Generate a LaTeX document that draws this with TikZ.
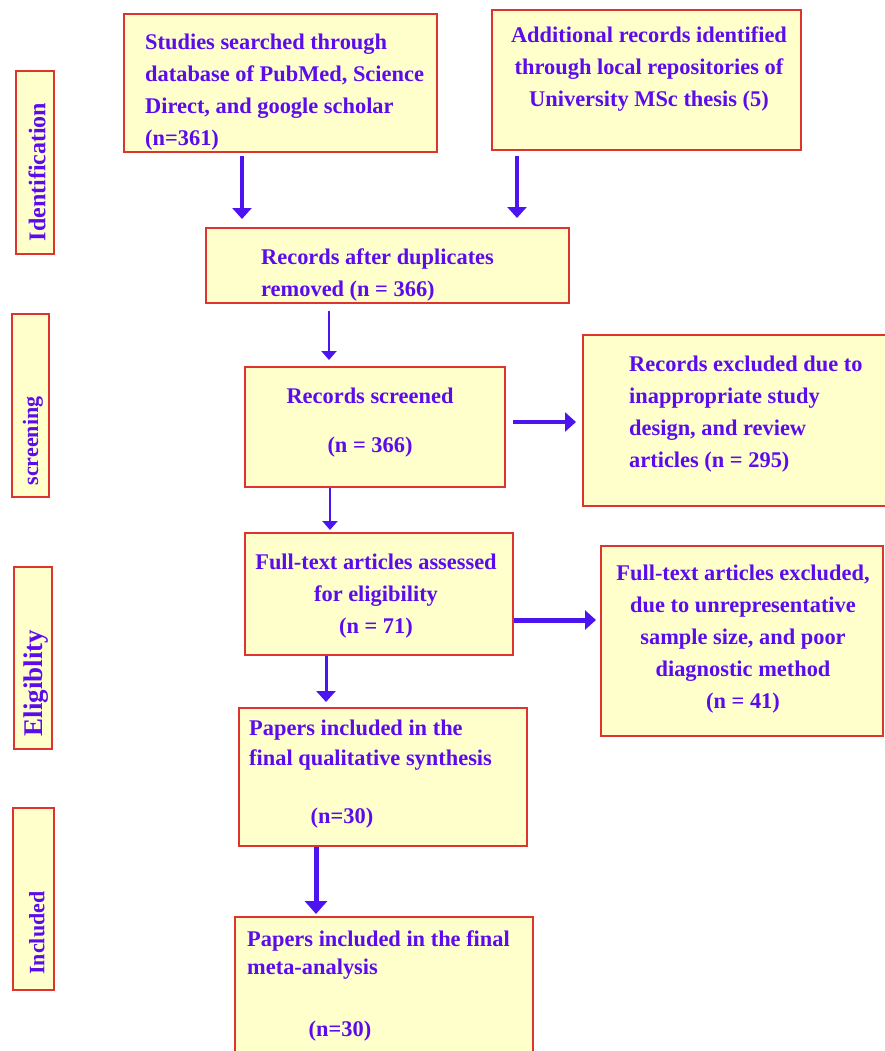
\documentclass[tikz,border=0pt]{standalone}
\usepackage{fontspec}
\setmainfont{Liberation Serif}
\usetikzlibrary{arrows.meta}

\definecolor{boxfill}{RGB}{255,255,204}
\definecolor{boxline}{RGB}{222,52,48}
\definecolor{txtcol}{RGB}{92,12,236}
\definecolor{arrcol}{RGB}{76,20,240}

\tikzset{
  box/.style={draw=boxline,fill=boxfill,line width=2pt,rectangle,inner sep=0pt},
  txt/.style={text=txtcol,font=\fontsize{22.4}{32}\selectfont\bfseries,inner sep=0pt},
  stagetxt/.style={text=txtcol,inner sep=0pt,rotate=90},
  thickarr/.style={draw=arrcol,line width=4pt,-{Triangle[length=11pt,width=19pt]}},
  thinarr/.style={draw=arrcol,line width=2.4pt,-{Triangle[length=9pt,width=15pt]}}
}

\begin{document}
\begin{tikzpicture}[x=1pt,y=-1pt]
    \useasboundingbox (0,0) rectangle (885,1051);

    % stage labels on the left
    \node[box,minimum width=38,minimum height=183] (ident) at (35,162.5) {};
    \node[box,minimum width=37,minimum height=183] (screen) at (30.5,405.5) {};
    \node[box,minimum width=38,minimum height=182] (elig) at (33,658) {};
    \node[box,minimum width=41,minimum height=182] (incl) at (33.5,899) {};
    \node[stagetxt,font=\fontsize{24}{28}\selectfont\bfseries] (identtxt) at (37,172) {Identification};
    \node[stagetxt,font=\fontsize{22}{26}\selectfont\bfseries] (screentxt) at (33,441) {screening};
    \node[stagetxt,font=\fontsize{27}{30}\selectfont\bfseries] (eligtxt) at (36,683) {Eligiblity};
    \node[stagetxt,font=\fontsize{22}{26}\selectfont\bfseries] (incltxt) at (37,933) {Included};

    % flow boxes
    \node[box,minimum width=313,minimum height=138] (search) at (280.5,83) {};
    \node[box,minimum width=309,minimum height=140] (extra) at (646.5,80) {};
    \node[box,minimum width=363,minimum height=75] (dedup) at (387.5,265.5) {};
    \node[box,minimum width=260,minimum height=120] (screened) at (375,427) {};
    \node[box,minimum width=304,minimum height=171] (excl) at (735,420.5) {};
    \node[box,minimum width=268,minimum height=122] (fulltext) at (379,594) {};
    \node[box,minimum width=282,minimum height=190] (ftexcl) at (742,641) {};
    \node[box,minimum width=288,minimum height=138] (qual) at (383,777) {};
    \node[box,minimum width=298,minimum height=140] (meta) at (384,987) {};

    % texts (placed by the baseline of their last line)
    \node[txt,align=left,anchor=base west] (searchtxt) at (145,146)
        {Studies searched through\\database of PubMed, Science\\Direct, and google scholar\\(n=361)};
    \node[txt,align=center,anchor=base] (extratxt) at (649,107)
        {Additional records identified\\through local repositories of\\University MSc thesis (5)};
    \node[txt,align=left,anchor=base west] (deduptxt) at (261,296)
        {Records after duplicates\\removed (n = 366)};
    \node[txt,align=center,anchor=base] (screenedtxt) at (370,452)
        {Records screened\\[17pt](n = 366)};
    \node[txt,align=left,anchor=base west] (excltxt) at (629,467)
        {Records excluded due to\\inappropriate study\\design, and review\\articles (n = 295)};
    \node[txt,align=center,anchor=base] (fulltexttxt) at (376,633)
        {Full-text articles assessed\\for eligibility\\(n = 71)};
    \node[txt,align=center,anchor=base] (ftexcltxt) at (743,708)
        {Full-text articles excluded,\\due to unrepresentative\\sample size, and poor\\diagnostic method\\(n = 41)};
    \node[txt,align=left,anchor=base west] (qualtxt) at (249,765)
        {Papers included in the\\[-2pt]final qualitative synthesis};
    \node[txt,anchor=base] (qualn) at (342,823) {(n=30)};
    \node[txt,align=left,anchor=base west] (metatxt) at (247,974)
        {Papers included in the final\\[-4pt]meta-analysis};
    \node[txt,anchor=base] (metan) at (340,1036) {(n=30)};

    % connectors
    \draw[thickarr,shorten <=3pt,shorten >=8pt] (search.south -| 242,0) -- (dedup.north -| 242,0);
    \draw[thickarr,shorten <=5pt,shorten >=9pt] (extra.south -| 517,0) -- (dedup.north -| 517,0);
    \draw[thinarr,shorten <=7pt,shorten >=6pt] (dedup.south -| 329,0) -- (screened.north -| 329,0);
    \draw[thinarr,shorten >=2pt] (screened.south -| 330,0) -- (fulltext.north -| 330,0);
    \draw[thickarr,shorten <=7pt,shorten >=6pt] (screened.east |- 0,422) -- (excl.west |- 0,422);
    \draw[thickarr,line width=5pt,shorten >=4pt] (fulltext.east |- 0,620) -- (ftexcl.west |- 0,620);
    \draw[thickarr,line width=3pt,shorten >=5pt] (fulltext.south -| 326,0) -- (qual.north -| 326,0);
    \draw[thickarr,line width=5pt,-{Triangle[length=13pt,width=22pt]},shorten >=2pt] (qual.south -| 316,0) -- (meta.north -| 316,0);
\end{tikzpicture}
\end{document}
